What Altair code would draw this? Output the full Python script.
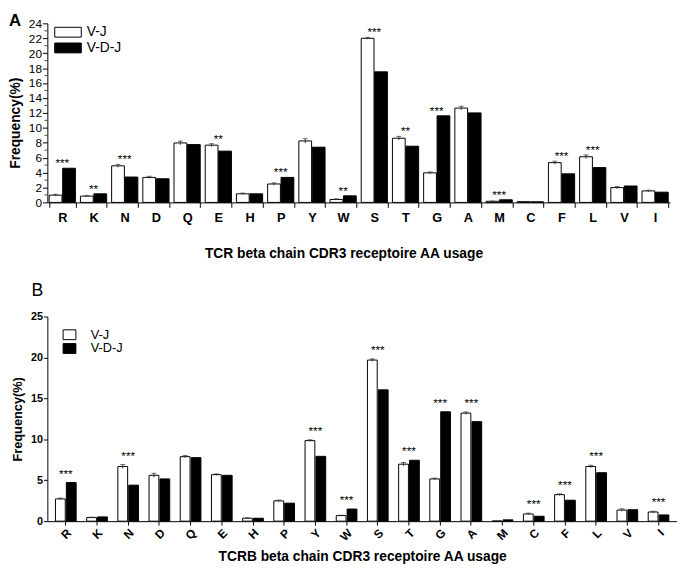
import altair as alt
import pandas as pd

FONT = "Liberation Sans"
series = ["V-J", "V-D-J"]
cats = ["R", "K", "N", "D", "Q", "E", "H", "P", "Y", "W",
        "S", "T", "G", "A", "M", "C", "F", "L", "V", "I"]

# Panel A values (percent)
a_vj = [0.97, 0.84, 4.9, 3.35, 7.97, 7.67, 1.15, 2.47, 8.24, 0.4,
        22.0, 8.6, 3.96, 12.64, 0.15, 0.1, 5.33, 6.12, 1.98, 1.54]
a_vdj = [4.58, 1.15, 3.4, 3.17, 7.75, 6.87, 1.15, 3.35, 7.4, 0.88,
         17.5, 7.53, 11.6, 12.0, 0.35, 0.08, 3.83, 4.67, 2.2, 1.37]
a_err = [0.12, 0.1, 0.2, 0.15, 0.25, 0.2, 0.1, 0.15, 0.3, 0.08,
         0.12, 0.25, 0.12, 0.25, 0.03, 0.03, 0.2, 0.25, 0.15, 0.1]
a_sig = ["***", "**", "***", "", "", "**", "", "***", "", "**",
         "***", "**", "***", "", "***", "", "***", "***", "", ""]
a_minor = [1, 3, 5, 7, 9, 11, 13, 15, 17, 19, 21, 23]

# Panel B values (percent)
b_vj = [2.72, 0.44, 6.68, 5.6, 7.88, 5.68, 0.36, 2.48, 9.84, 0.68,
        19.68, 6.96, 5.16, 13.2, 0.02, 0.88, 3.24, 6.68, 1.36, 1.12]
b_vdj = [4.72, 0.52, 4.4, 5.16, 7.76, 5.6, 0.36, 2.2, 7.92, 1.48,
         16.04, 7.44, 13.36, 12.16, 0.16, 0.6, 2.56, 5.92, 1.4, 0.76]
b_err = [0.1, 0.05, 0.25, 0.25, 0.15, 0.1, 0.05, 0.1, 0.1, 0.05,
         0.15, 0.2, 0.1, 0.15, 0.0, 0.1, 0.1, 0.15, 0.15, 0.1]
b_sig = ["***", "", "***", "", "", "", "", "", "***", "***",
         "***", "***", "***", "***", "", "***", "***", "***", "", "***"]


def long_df(vj, vdj, err):
    rows = []
    for c, v1, v2, e in zip(cats, vj, vdj, err):
        rows.append({"cat": c, "series": "V-J", "value": v1, "err": e})
        rows.append({"cat": c, "series": "V-D-J", "value": v2, "err": 0.0})
    return pd.DataFrame(rows)


def sig_df(vj, vdj, err, sig):
    rows = []
    for c, v1, v2, e, s in zip(cats, vj, vdj, err, sig):
        if s:
            rows.append({"cat": c, "label": s, "top": max(v1 + e, v2)})
    return pd.DataFrame(rows)


def panel(vj, vdj, err, sig, ymax, width, height, pin, pout, offpad,
          xaxis, yaxis, legend, star_dy, letter, letter_xy, letter_font, minor=None):
    df = long_df(vj, vdj, err)
    sdf = sig_df(vj, vdj, err, sig)
    xsc = alt.Scale(paddingInner=pin, paddingOuter=pout)
    xs = alt.X("cat:N", sort=cats, scale=xsc, axis=xaxis)
    xo = alt.XOffset("series:N", sort=series, scale=alt.Scale(paddingInner=offpad))
    ysc = alt.Scale(domain=[0, ymax], nice=False)
    base = alt.Chart(df)
    bars = base.mark_bar(stroke="black", strokeWidth=1).encode(
        x=xs, xOffset=xo,
        y=alt.Y("value:Q", scale=ysc, axis=yaxis),
        color=alt.Color("series:N", sort=series,
                        scale=alt.Scale(domain=series, range=["white", "black"]),
                        legend=legend),
    )
    errs = base.transform_filter("datum.err > 0").transform_calculate(
        lo="datum.value - datum.err", hi="datum.value + datum.err")
    err_rule = errs.mark_rule(color="#333", strokeWidth=1).encode(
        x=xs, xOffset=xo,
        y=alt.Y("lo:Q", scale=ysc, axis=yaxis), y2="hi:Q")
    cap_hi = errs.mark_tick(color="#333", thickness=1, size=5).encode(
        x=xs, xOffset=xo, y=alt.Y("hi:Q", scale=ysc, axis=yaxis))
    stars = alt.Chart(sdf).mark_text(font=FONT, fontSize=12, baseline="alphabetic",
                                     dy=star_dy, color="black").encode(
        x=xs, y=alt.Y("top:Q", scale=ysc, axis=yaxis), text="label:N")
    lab = alt.Chart(pd.DataFrame({"t": [letter]})).mark_text(
        align="left", baseline="top", color="black", **letter_font).encode(
        x=alt.value(letter_xy[0]), y=alt.value(letter_xy[1]), text="t:N")
    layers = [bars, err_rule, cap_hi, stars, lab]
    if minor is not None:
        mt = alt.Chart(pd.DataFrame({"m": minor})).mark_tick(
            color="black", thickness=1, size=3, orient="horizontal").encode(
            y=alt.Y("m:Q", scale=ysc, axis=yaxis), x=alt.value(-1.5))
        layers.append(mt)
    return alt.layer(*layers).properties(width=width, height=height)


axis_common = dict(grid=False, domainColor="black", tickColor="black",
                   labelColor="black", titleColor="black",
                   labelFont=FONT, titleFont=FONT, labelOverlap=False)

xa = alt.Axis(title="TCR beta chain CDR3 receptoire AA usage", labelAngle=0,
              labelFontSize=13, labelFontWeight="bold", titleFontSize=14,
              titleFontWeight="bold", tickSize=5, labelPadding=4, titlePadding=23,
              titleX=301, tickBand="extent", **axis_common)
ya = alt.Axis(title="Frequency(%)", values=list(range(0, 25, 2)), labelFontSize=12,
              titleFontSize=14, titleFontWeight="bold", tickSize=5, labelPadding=1,
              titlePadding=6, titleY=101, **axis_common)
leg_a = alt.Legend(title=None, orient="none", legendX=14, legendY=2, padding=0,
                   symbolType="M-2.7,-1H2.7V1H-2.7Z", symbolSize=100,
                   symbolStrokeColor="black", symbolStrokeWidth=1, symbolOpacity=1,
                   labelFont=FONT, labelFontSize=14, labelColor="black",
                   labelOffset=12, rowPadding=2)

xb = alt.Axis(title="TCRB beta chain CDR3 receptoire AA usage", labelAngle=-45,
              labelFontSize=12, labelFontWeight="bold", titleFontSize=14,
              titleFontWeight="bold", tickSize=4, labelPadding=2, titlePadding=7,
              **axis_common)
yb = alt.Axis(title="Frequency(%)", values=[0, 5, 10, 15, 20, 25], labelFontSize=11,
              labelFontWeight="bold", titleFontSize=13, titleFontWeight="bold",
              tickSize=4, labelPadding=1, titlePadding=6, **axis_common)
leg_b = alt.Legend(title=None, orient="none", legendX=16, legendY=12, padding=0,
                   symbolType="M-1.3,-1H1.3V1H-1.3Z", symbolSize=100,
                   symbolStrokeColor="black", symbolStrokeWidth=1, symbolOpacity=1,
                   labelFont=FONT, labelFontSize=13, labelColor="black",
                   labelOffset=15, rowPadding=-3)

pa = panel(a_vj, a_vdj, a_err, a_sig, 24, 633, 182, 0.16, 0.06, 0.05,
           xa, ya, leg_a, -1, "A", (-39, -10),
           dict(font=FONT, fontSize=17, fontWeight="bold"), minor=a_minor)
pb = panel(b_vj, b_vdj, b_err, b_sig, 25, 640, 208, 0.337, 0.26, 0.1,
           xb, yb, leg_b, -5, "B", (-16, -35),
           dict(font=FONT, fontSize=18, fontWeight="normal"))

chart = alt.vconcat(pa, pb, spacing=22).resolve_scale(
    x="independent", y="independent", color="independent", xOffset="independent"
).resolve_legend(color="independent").properties(
    padding=0, background="white"
).configure_view(stroke=None)

chart.save("out.html", embed_options={"renderer": "svg", "actions": False})
